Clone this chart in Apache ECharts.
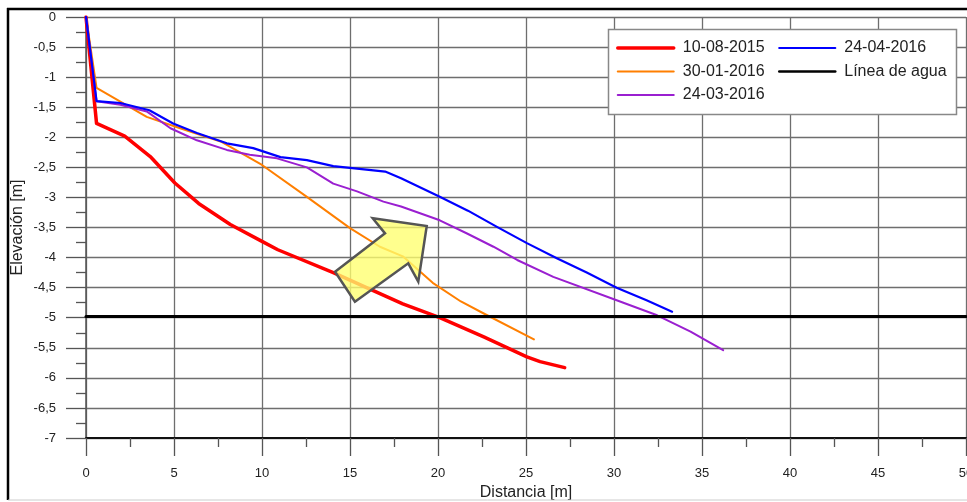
<!DOCTYPE html>
<html>
<head>
<meta charset="utf-8">
<script src="https://cdn.jsdelivr.net/npm/echarts@6/dist/echarts.min.js"></script>
<style>
  html, body { margin: 0; padding: 0; background: #fff; }
  #chart { width: 967px; height: 502px; }
</style>
</head>
<body>
<div id="chart"></div>
<script>
// Beach profiles: elevation [m] against distance [m] for four survey dates
const profile20150810 = [[0,0],[0.6,-1.77],[2.2,-1.98],[3.65,-2.32],[5.05,-2.76],[6.4,-3.1],[8.2,-3.45],[10,-3.73],[10.9,-3.87],[14.05,-4.25],[16.1,-4.52],[18,-4.77],[20.1,-5.0],[22.6,-5.32],[25.05,-5.65],[25.8,-5.73],[27.2,-5.83]];
const profile20160130 = [[0,0],[0.6,-1.18],[3.45,-1.66],[5.35,-1.85],[7.65,-2.07],[9.35,-2.35],[10,-2.46],[12.55,-2.99],[15,-3.51],[16.7,-3.82],[18,-3.98],[19.7,-4.42],[21.3,-4.73],[22.6,-4.93],[25.45,-5.36]];
const profile20160324 = [[0,0],[0.6,-1.4],[1.95,-1.46],[3.45,-1.57],[4.8,-1.85],[6.3,-2.05],[8,-2.21],[9.3,-2.29],[10.85,-2.35],[12.55,-2.5],[14.05,-2.77],[15.4,-2.9],[16.9,-3.07],[17.9,-3.15],[20.1,-3.38],[21.65,-3.6],[23.15,-3.82],[24.5,-4.04],[26.55,-4.32],[30.15,-4.71],[32.45,-4.96],[34.35,-5.23],[36.2,-5.54]];
const profile20160424 = [[0,0],[0.6,-1.4],[1.95,-1.43],[3.6,-1.55],[4.95,-1.77],[6.3,-1.93],[8,-2.1],[9.5,-2.18],[11.05,-2.33],[12.55,-2.38],[14.05,-2.48],[15.4,-2.52],[17,-2.57],[17.9,-2.68],[20.1,-2.99],[21.7,-3.22],[23.35,-3.49],[25.05,-3.76],[26.75,-4.01],[28.45,-4.25],[30.15,-4.5],[31.85,-4.71],[33.3,-4.9]];
const waterLevel = -4.98;
const waterLine = [[0, waterLevel], [50, waterLevel]];

// Accretion arrow outline, in data units (distance, elevation)
const arrowShape = [[14.15,-4.235],[16.99,-3.597],[16.29,-3.347],[19.36,-3.475],[18.88,-4.401],[18.31,-4.095],[15.28,-4.734]];

const seriesNames = ['10-08-2015', '30-01-2016', '24-03-2016', '24-04-2016', 'Línea de agua'];
const legendLeftColumn = ['10-08-2015', '30-01-2016', '24-03-2016'];
const legendRightColumn = ['24-04-2016', 'Línea de agua'];

const FONT = "'Liberation Sans', Arial, sans-serif";

const seriesStyle = {
  '10-08-2015': { color: '#ff0000', width: 3.5 },
  '30-01-2016': { color: '#ff7f00', width: 2 },
  '24-03-2016': { color: '#9a1fd0', width: 2 },
  '24-04-2016': { color: '#0000ff', width: 2.2 },
  'Línea de agua': { color: '#000000', width: 2.5 }
};

const chart = echarts.init(document.getElementById('chart'), null, { renderer: 'canvas' });

function lineSeries(name, data, z) {
  const s = seriesStyle[name];
  return {
    name: name, type: 'line', data: data, symbol: 'none', z: z,
    lineStyle: { color: s.color, width: name === 'Línea de agua' ? 3 : s.width, cap: 'round', join: 'round' },
    itemStyle: { color: s.color }
  };
}

function legendItems(names) {
  return names.map(n => ({ name: n, lineStyle: { width: seriesStyle[n].width, color: seriesStyle[n].color } }));
}

// Legend entries show only the line sample (the marker is made invisible)
const legendCommon = {
  orient: 'vertical', itemWidth: 56, itemHeight: 14, itemGap: 7.5, z: 20, padding: 0,
  itemStyle: { opacity: 0 },
  textStyle: { fontFamily: FONT, fontSize: 16, color: '#222', padding: [0, 0, 0, 4] },
  inactiveColor: '#ccc'
};

chart.setOption({
  animation: false,
  backgroundColor: '#fff',
  grid: { left: 86, top: 17, right: 1, bottom: 64, outerBoundsMode: 'none', containLabel: false },
  legend: [
    Object.assign({}, legendCommon, { left: 616, top: 40, data: legendItems(legendLeftColumn) }),
    Object.assign({}, legendCommon, { left: 778, top: 40, data: legendItems(legendRightColumn) })
  ],
  graphic: [
    { type: 'rect', z: 15, shape: { x: 608.5, y: 29.5, width: 348, height: 85 },
      style: { fill: '#fff', stroke: '#888', lineWidth: 1.5 } },
    { type: 'line', z: 30, shape: { x1: 7, y1: 9, x2: 967, y2: 9 }, style: { stroke: '#000', lineWidth: 2.5 } },
    { type: 'line', z: 30, shape: { x1: 8, y1: 8, x2: 8, y2: 500 }, style: { stroke: '#000', lineWidth: 2.5 } },
    { type: 'line', z: 30, shape: { x1: 8, y1: 500, x2: 967, y2: 500 }, style: { stroke: '#ccc', lineWidth: 1 } }
  ],
  xAxis: {
    type: 'value', min: 0, max: 50, interval: 5,
    name: 'Distancia [m]', nameLocation: 'middle', nameGap: 47, nameMoveOverlap: false,
    nameTextStyle: { fontFamily: FONT, fontSize: 16, color: '#222' },
    axisLine: { onZero: false, lineStyle: { color: '#111', width: 2 } },
    axisTick: { show: true, length: 18, lineStyle: { color: '#555', width: 1.3 } },
    minorTick: { show: true, splitNumber: 2, length: 9, lineStyle: { color: '#555', width: 1.3 } },
    axisLabel: { fontFamily: FONT, fontSize: 13, color: '#222', margin: 29 },
    splitLine: { show: true, lineStyle: { color: '#6e6e6e', width: 1.3 } }
  },
  yAxis: {
    type: 'value', min: -7, max: 0, interval: 0.5,
    name: 'Elevación [m]', nameLocation: 'middle', nameGap: 60, nameMoveOverlap: false,
    nameTextStyle: { fontFamily: FONT, fontSize: 16, color: '#222' },
    axisLine: { show: true, onZero: false, lineStyle: { color: '#555', width: 1.5 } },
    axisTick: { show: true, length: 20, lineStyle: { color: '#555', width: 1.3 } },
    minorTick: { show: true, splitNumber: 2, length: 10, lineStyle: { color: '#555', width: 1.3 } },
    axisLabel: {
      fontFamily: FONT, fontSize: 13, color: '#222', margin: 30,
      formatter: v => String(v).replace('.', ',')
    },
    splitLine: { show: true, lineStyle: { color: '#6e6e6e', width: 1.3 } }
  },
  series: [
    lineSeries(seriesNames[0], profile20150810, 3),
    lineSeries(seriesNames[1], profile20160130, 4),
    lineSeries(seriesNames[2], profile20160324, 5),
    lineSeries(seriesNames[3], profile20160424, 6),
    lineSeries(seriesNames[4], waterLine, 7),
    {
      type: 'custom', name: 'arrow', z: 8, silent: true,
      data: [[0, 0]],
      renderItem: function (params, api) {
        const pts = arrowShape.map(p => api.coord(p));
        return {
          type: 'polygon',
          shape: { points: pts },
          style: { fill: 'rgba(255,255,110,0.78)', stroke: '#555', lineWidth: 2.5, lineJoin: 'miter' }
        };
      }
    }
  ]
});
</script>
</body>
</html>
